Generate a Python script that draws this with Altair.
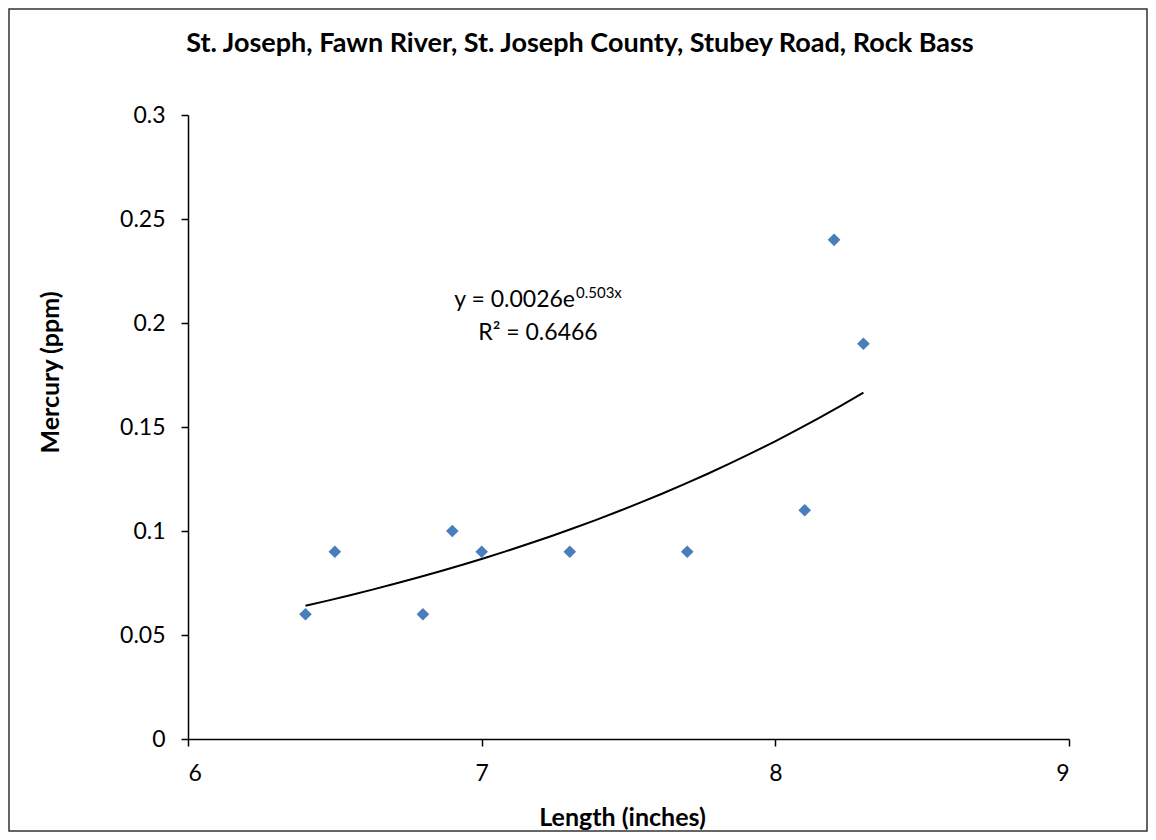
import altair as alt
import pandas as pd

# ---- data ----
length_in = [6.4, 6.5, 6.8, 6.9, 7.0, 7.3, 7.7, 8.1, 8.2, 8.3]
mercury_ppm = [0.06, 0.09, 0.06, 0.10, 0.09, 0.09, 0.09, 0.11, 0.24, 0.19]
x_ticks = [6, 7, 8, 9]
y_ticks = [0, 0.05, 0.1, 0.15, 0.2, 0.25, 0.3]
title_text = ["St. Joseph, Fawn River, St. Joseph County, Stubey Road, Rock Bass"]
x_title = "Length (inches)"
y_title = "Mercury (ppm)"
eq_text = ["y = 0.0026e"]
eq_exp_text = ["0.503x"]
r2_text = ["R² = 0.6466"]

df = pd.DataFrame({"length": length_in, "mercury": mercury_ppm})

FONT = "Lato"
W, H = 881, 624
PAD = {"left": 180, "top": 107, "right": 79, "bottom": 93}

xscale = alt.Scale(domain=[6, 9], nice=False, zero=False)
yscale = alt.Scale(domain=[0, 0.3], nice=False)
x_axis = alt.Axis(values=x_ticks, title=x_title, titleX=434, titleY=86,
                  titleBaseline="alphabetic", titleAlign="center")
y_axis = alt.Axis(values=y_ticks, format="~g", title=y_title,
                  titleX=-130, titleY=257, titleAngle=270,
                  titleBaseline="alphabetic", titleAlign="center")

points = alt.Chart(df).mark_point(
    shape="diamond", filled=True, size=160, color="#4a7ebb", opacity=1
).encode(
    x=alt.X("length:Q", scale=xscale, axis=x_axis),
    y=alt.Y("mercury:Q", scale=yscale, axis=y_axis),
)

trend = alt.Chart(df).transform_calculate(
    logy="log(datum.mercury)"
).transform_regression(
    "length", "logy", method="poly", order=1
).transform_calculate(
    fit="exp(datum.logy)"
).mark_line(color="black", strokeWidth=2).encode(
    x=alt.X("length:Q", scale=xscale, axis=x_axis),
    y=alt.Y("fit:Q", scale=yscale, axis=y_axis),
)

title = alt.Chart(alt.Data(values=[{"t": t} for t in title_text])).mark_text(
    font=FONT, fontSize=27, fontWeight="bold", align="center",
    baseline="alphabetic", color="black"
).encode(x=alt.value(392), y=alt.value(-63), text="t:N")

eq = alt.Chart(alt.Data(values=[{"t": t} for t in eq_text])).mark_text(
    font=FONT, fontSize=23, align="right", baseline="alphabetic", color="black"
).encode(x=alt.value(387), y=alt.value(192), text="t:N")

eq_exp = alt.Chart(alt.Data(values=[{"t": t} for t in eq_exp_text])).mark_text(
    font=FONT, fontSize=15, align="left", baseline="alphabetic", color="black"
).encode(x=alt.value(388), y=alt.value(183), text="t:N")

r2 = alt.Chart(alt.Data(values=[{"t": t} for t in r2_text])).mark_text(
    font=FONT, fontSize=23, align="center", baseline="alphabetic", color="black"
).encode(x=alt.value(350), y=alt.value(225), text="t:N")

border = alt.Chart(alt.Data(values=[{"b": 1}])).mark_rect(
    fill=None, stroke="#333333", strokeWidth=1.5
).encode(
    x=alt.value(-PAD["left"] + 1), x2=alt.value(W + PAD["right"] - 1),
    y=alt.value(-PAD["top"] + 1), y2=alt.value(H + PAD["bottom"] - 1),
)

chart = alt.layer(border, trend, points, eq, eq_exp, r2, title).properties(
    width=W, height=H,
    autosize="none",
    padding=PAD,
    background="white",
).configure_view(strokeOpacity=0).configure_axis(
    grid=False, domainColor="black", domainWidth=1.5, tickColor="black",
    tickWidth=1.5, tickSize=7, labelFont=FONT, labelFontSize=23,
    labelColor="black", labelPadding=16, titleFont=FONT, titleFontSize=25,
    titleFontWeight="bold", titleColor="black",
)

chart.save("out.html", embed_options={"renderer": "svg", "actions": False})
